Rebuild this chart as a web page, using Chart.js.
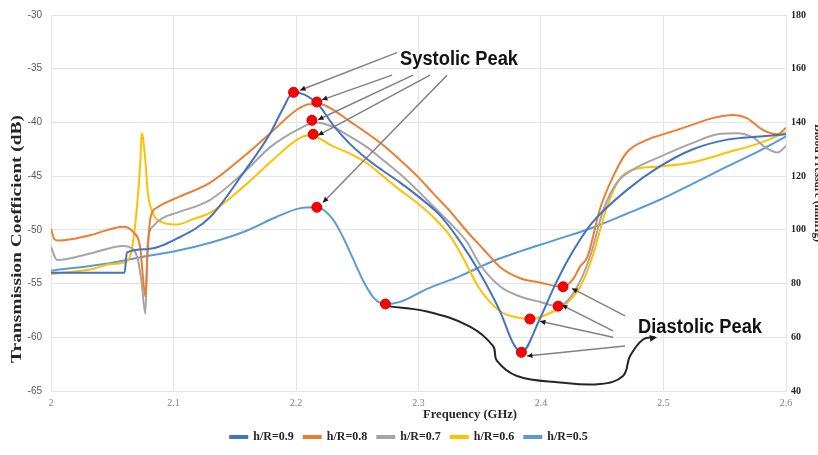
<!DOCTYPE html>
<html>
<head>
<meta charset="utf-8">
<script src="https://cdn.jsdelivr.net/npm/chart.js@4/dist/chart.umd.min.js"></script>
<style>
  body { margin: 0; background: #fff; }
  #wrap { width: 818px; height: 455px; }
</style>
</head>
<body>
<div id="wrap"><canvas id="chart"></canvas></div>
<script>
// frequency (GHz) and transmission coefficient (dB) per curve
const x09 = [2.000, 2.060, 2.062, 2.078, 2.103, 2.130, 2.157, 2.179, 2.189, 2.198, 2.217, 2.230, 2.244, 2.258, 2.271, 2.285, 2.301, 2.318, 2.334, 2.350, 2.367, 2.377, 2.384, 2.399, 2.410, 2.421, 2.432, 2.442, 2.470, 2.497, 2.524, 2.552, 2.579, 2.600];
const y09 = [-54.0, -54.0, -52.1, -51.8, -50.8, -48.8, -44.7, -41.0, -38.8, -37.2, -38.2, -40.2, -42.0, -43.4, -44.5, -45.6, -47.0, -48.7, -51.1, -54.0, -57.7, -60.5, -61.4, -58.3, -55.5, -53.0, -50.9, -49.3, -46.3, -44.1, -42.5, -41.6, -41.3, -41.1];

const x08 = [2.000, 2.003, 2.007, 2.032, 2.059, 2.067, 2.073, 2.075, 2.077, 2.079, 2.081, 2.087, 2.103, 2.130, 2.157, 2.179, 2.201, 2.211, 2.220, 2.230, 2.244, 2.258, 2.271, 2.285, 2.299, 2.312, 2.326, 2.340, 2.353, 2.367, 2.383, 2.399, 2.418, 2.426, 2.432, 2.438, 2.448, 2.459, 2.470, 2.487, 2.503, 2.524, 2.540, 2.557, 2.568, 2.581, 2.593, 2.600];
const y08 = [-49.9, -50.9, -51.0, -50.5, -49.7, -50.2, -51.8, -54.3, -56.2, -51.8, -49.0, -47.9, -47.0, -45.6, -43.2, -41.0, -38.8, -38.3, -38.3, -38.8, -39.9, -41.0, -42.1, -43.5, -45.0, -46.6, -48.3, -50.2, -51.8, -53.5, -54.5, -54.9, -55.3, -54.6, -53.4, -52.5, -48.1, -45.0, -42.8, -41.6, -41.0, -40.2, -39.6, -39.3, -39.6, -40.7, -41.1, -40.5];

const x07 = [2.000, 2.005, 2.032, 2.059, 2.067, 2.071, 2.074, 2.077, 2.079, 2.083, 2.091, 2.103, 2.130, 2.157, 2.179, 2.201, 2.216, 2.230, 2.244, 2.258, 2.271, 2.285, 2.299, 2.312, 2.326, 2.340, 2.350, 2.367, 2.383, 2.399, 2.414, 2.428, 2.440, 2.451, 2.462, 2.475, 2.497, 2.524, 2.544, 2.560, 2.573, 2.584, 2.593, 2.600];
const y07 = [-51.6, -52.8, -52.2, -51.5, -51.8, -52.8, -54.9, -57.8, -51.2, -49.7, -48.9, -48.4, -47.2, -44.7, -42.3, -40.7, -40.0, -40.4, -41.3, -42.3, -43.5, -44.8, -46.3, -47.8, -49.4, -51.2, -53.2, -55.3, -56.2, -56.7, -57.1, -55.6, -52.5, -48.1, -45.6, -44.4, -43.2, -41.9, -41.1, -41.0, -41.4, -42.4, -42.8, -42.2];

const x06 = [2.000, 2.032, 2.048, 2.062, 2.066, 2.070, 2.073, 2.074, 2.077, 2.079, 2.083, 2.091, 2.103, 2.116, 2.130, 2.157, 2.179, 2.201, 2.211, 2.230, 2.244, 2.258, 2.271, 2.285, 2.299, 2.312, 2.326, 2.334, 2.350, 2.367, 2.383, 2.391, 2.410, 2.424, 2.432, 2.442, 2.454, 2.464, 2.475, 2.497, 2.524, 2.552, 2.579, 2.600];
const y06 = [-54.1, -53.7, -53.2, -52.9, -51.8, -48.1, -43.5, -41.0, -43.5, -46.5, -48.4, -49.3, -49.5, -49.0, -48.4, -46.0, -43.7, -41.6, -41.2, -42.2, -42.9, -43.8, -45.0, -46.3, -47.5, -48.8, -50.6, -52.1, -55.5, -57.6, -58.2, -58.3, -57.6, -56.5, -55.3, -52.5, -47.8, -45.3, -44.4, -44.1, -43.7, -42.8, -41.9, -40.9];

const x05 = [2.000, 2.048, 2.075, 2.101, 2.130, 2.157, 2.184, 2.203, 2.217, 2.230, 2.238, 2.247, 2.256, 2.264, 2.273, 2.285, 2.307, 2.334, 2.361, 2.383, 2.410, 2.442, 2.470, 2.497, 2.524, 2.552, 2.579, 2.600];
const y05 = [-53.8, -53.1, -52.5, -52.0, -51.2, -50.2, -48.8, -48.0, -47.9, -49.0, -50.6, -52.8, -55.0, -56.4, -56.9, -56.7, -55.5, -54.3, -52.9, -52.0, -51.0, -49.8, -48.5, -47.2, -45.7, -44.1, -42.6, -41.3];

const labels = ["h/R=0.9", "h/R=0.8", "h/R=0.7", "h/R=0.6", "h/R=0.5"];
const colors = ["#4472C4", "#ED7D31", "#A5A5A5", "#FFC000", "#5B9BD5"];
const xs = [x09, x08, x07, x06, x05];
const ys = [y09, y08, y07, y06, y05];

// marked peaks (red dots)
const peakX = [2.198, 2.217, 2.213, 2.214, 2.217, 2.273, 2.384, 2.391, 2.414, 2.418];
const peakY = [-37.2, -38.1, -39.8, -41.1, -47.9, -56.9, -61.4, -58.3, -57.1, -55.3];

// annotation pointers [x0, y0, x1, y1] in data units
const sysArrows = [
  [2.2824, -33.5, 2.2033, -37.0],
  [2.2784, -35.6, 2.2212, -37.9],
  [2.2955, -35.6, 2.2180, -39.75],
  [2.3094, -35.6, 2.2180, -41.2],
  [2.3233, -35.6, 2.2220, -47.45]
];
const diaArrows = [
  [2.4686, -58.0, 2.4253, -55.45],
  [2.4588, -59.4, 2.4171, -57.0],
  [2.4588, -60.0, 2.3992, -58.5],
  [2.4686, -60.8, 2.3886, -61.75]
];
const curveX = [2.2743, 2.3069, 2.3420, 2.3608, 2.3641, 2.3804, 2.4155, 2.4482, 2.4669, 2.4727, 2.4833, 2.4931];
const curveY = [-57.1, -57.6, -59.0, -60.8, -62.2, -63.6, -64.2, -64.35, -63.6, -61.75, -60.2, -60.0];

const datasets = labels.map((lab, i) => ({
  label: lab,
  data: xs[i].map((x, j) => ({ x, y: ys[i][j] })),
  borderColor: colors[i],
  backgroundColor: colors[i],
  borderWidth: 2,
  pointRadius: 0,
  cubicInterpolationMode: "monotone",
  yAxisID: "y"
}));

datasets.push({
  label: "curve",
  data: curveX.map((x, j) => ({ x, y: curveY[j] })),
  borderColor: "#262626",
  borderWidth: 2,
  pointRadius: 0,
  tension: 0.4,
  yAxisID: "y",
  order: -1
});

datasets.push({
  label: "peaks",
  data: peakX.map((x, j) => ({ x, y: peakY[j] })),
  showLine: false,
  pointRadius: 5,
  pointBackgroundColor: "#FF0000",
  pointBorderColor: "#D00000",
  pointBorderWidth: 1,
  yAxisID: "y",
  order: -2
});

function stretchText(ctx, text, cx, cy, w, angle) {
  ctx.save();
  ctx.translate(cx, cy);
  ctx.rotate(angle);
  const m = ctx.measureText(text).width;
  ctx.scale(w / m, 1);
  ctx.textAlign = "center";
  ctx.textBaseline = "middle";
  ctx.fillText(text, 0, 0);
  ctx.restore();
}

function arrowHead(ctx, x0, y0, x1, y1, size) {
  const a = Math.atan2(y1 - y0, x1 - x0);
  ctx.beginPath();
  ctx.moveTo(x1, y1);
  ctx.lineTo(x1 - size * Math.cos(a - 0.45), y1 - size * Math.sin(a - 0.45));
  ctx.lineTo(x1 - size * Math.cos(a + 0.45), y1 - size * Math.sin(a + 0.45));
  ctx.closePath();
  ctx.fill();
}

const overlay = {
  id: "overlay",
  afterDatasetsDraw(chart) {
    const { ctx } = chart;
    const sx = chart.scales.x, sy = chart.scales.y;
    const px = v => sx.getPixelForValue(v);
    const py = v => sy.getPixelForValue(v);
    ctx.save();
    ctx.strokeStyle = "#808080";
    ctx.lineWidth = 1.5;
    ctx.fillStyle = "#1a1a1a";
    for (const a of sysArrows.concat(diaArrows)) {
      const [x0, y0, x1, y1] = [px(a[0]), py(a[1]), px(a[2]), py(a[3])];
      ctx.beginPath();
      ctx.moveTo(x0, y0);
      ctx.lineTo(x1, y1);
      ctx.stroke();
      arrowHead(ctx, x0, y0, x1, y1, 6);
    }
    // head of the black curve
    const n = curveX.length;
    arrowHead(ctx, px(curveX[n - 2]), py(curveY[n - 2]), px(curveX[n - 1]) + 2, py(curveY[n - 1]), 8);

    ctx.fillStyle = "#111";
    ctx.font = "bold 20px 'Liberation Sans', sans-serif";
    stretchText(ctx, "Systolic Peak", px(2.3331), py(-34.18), 118, 0);
    stretchText(ctx, "Diastolic Peak", px(2.5298), py(-59.06), 124, 0);
    ctx.restore();
  },
  afterDraw(chart) {
    const { ctx } = chart;
    ctx.save();
    ctx.fillStyle = "#262626";
    ctx.font = "bold 14px 'Liberation Serif', serif";
    stretchText(ctx, "Transmission Coefficient (dB)", 17, 239, 248, -Math.PI / 2);
    ctx.font = "bold 12px 'Liberation Serif', serif";
    stretchText(ctx, "Frequency (GHz)", 470, 415, 94, 0);
    stretchText(ctx, "Blood Pressure (mmHg)", 818, 183, 118, Math.PI / 2);
    ctx.restore();
  }
};

const gridColor = "#E4E4E4";

new Chart(document.getElementById("chart"), {
  type: "line",
  data: { datasets },
  plugins: [overlay],
  options: {
    responsive: true,
    maintainAspectRatio: false,
    animation: false,
    layout: { padding: { top: 15, left: 0, right: 0, bottom: 2 } },
    plugins: {
      tooltip: { enabled: false },
      legend: {
        position: "bottom",
        labels: {
          filter: item => item.text.startsWith("h/R"),
          boxWidth: 17,
          boxHeight: 2,
          padding: 10,
          color: "#262626",
          font: { family: "'Liberation Serif', serif", size: 12, weight: "bold" }
        }
      }
    },
    scales: {
      x: {
        type: "linear",
        min: 2,
        max: 2.6,
        afterFit: s => { s.height = 30; },
        grid: { color: gridColor, drawTicks: false },
        border: { color: gridColor },
        ticks: {
          stepSize: 0.1,
          padding: 6,
          color: "#7F7F7F",
          font: { family: "'Liberation Serif', serif", size: 10 },
          callback: v => String(+v.toFixed(1))
        }
      },
      y: {
        position: "left",
        min: -65,
        max: -30,
        afterFit: s => { s.width = 51; },
        grid: { color: gridColor, drawTicks: false },
        border: { color: gridColor },
        ticks: {
          stepSize: 5,
          padding: 9,
          color: "#595959",
          font: { family: "'Liberation Sans', sans-serif", size: 10 }
        }
      },
      y1: {
        position: "right",
        min: 40,
        max: 180,
        afterFit: s => { s.width = 32; },
        grid: { drawOnChartArea: false, drawTicks: false },
        border: { color: gridColor },
        ticks: {
          stepSize: 20,
          padding: 5,
          color: "#262626",
          font: { family: "'Liberation Serif', serif", size: 10, weight: "bold" }
        }
      }
    }
  }
});
</script>
</body>
</html>
